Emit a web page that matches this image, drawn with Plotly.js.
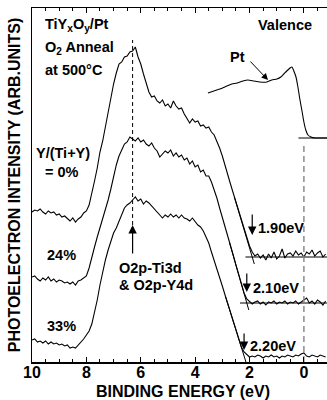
<!DOCTYPE html>
<html>
<head>
<meta charset="utf-8">
<script src="https://cdn.plot.ly/plotly-3.0.1.min.js"></script>
<style>
  html, body { margin: 0; padding: 0; background: #fff; }
  #chart { width: 327px; height: 400px; }
</style>
</head>
<body>
<div id="chart"></div>
<script>
// Binding energy grid of the valence-band spectra (eV)
const energy = [
  10.0, 9.9, 9.8, 9.7, 9.6, 9.5, 9.4, 9.3, 9.2, 9.1,
  9.0, 8.9, 8.8, 8.7, 8.6, 8.5, 8.4, 8.3, 8.2, 8.1,
  8.0, 7.9, 7.8, 7.7, 7.6, 7.5, 7.4, 7.3, 7.2, 7.1,
  7.0, 6.9, 6.8, 6.7, 6.6, 6.5, 6.4, 6.3, 6.2, 6.1,
  6.0, 5.9, 5.8, 5.7, 5.6, 5.5, 5.4, 5.3, 5.2, 5.1,
  5.0, 4.9, 4.8, 4.7, 4.6, 4.5, 4.4, 4.3, 4.2, 4.1,
  4.0, 3.9, 3.8, 3.7, 3.6, 3.5, 3.4, 3.3, 3.2, 3.1,
  3.0, 2.9, 2.8, 2.7, 2.6, 2.5, 2.4, 2.3, 2.2, 2.1,
  2.0, 1.9, 1.8, 1.7, 1.6, 1.5, 1.4, 1.3, 1.2, 1.1,
  1.0, 0.9, 0.8, 0.7, 0.6, 0.5, 0.4, 0.3, 0.2, 0.1,
  0.0, -0.1, -0.2, -0.3, -0.4, -0.5, -0.6, -0.7, -0.8
];

// Photoelectron intensity (arb. units, offset stack) for Y/(Ti+Y) = 0 %
const intensity0 = [
  150, 152, 151, 153, 150, 148, 151, 149, 150, 147,
  148, 145, 146, 143, 141, 144, 140, 143, 145, 149,
  151, 157, 168, 181, 194, 210, 221, 235, 250, 265,
  278, 289, 298, 300, 305, 306, 310, 311, 315, 305,
  298, 288, 279, 270, 265, 266, 261, 259, 262, 256,
  258, 254, 261, 256, 253, 254, 248, 244, 239, 243,
  240, 241, 236, 237, 234, 235, 230, 227, 221, 214,
  206, 196, 187, 178, 169, 160, 151, 141, 132, 123,
  116, 110, 106, 108, 104, 107, 102, 108, 104, 110,
  103, 106, 113, 104, 108, 109, 106, 111, 107, 109,
  105, 110, 108, 112, 106, 109, 111, 105, 108
];

// Y/(Ti+Y) = 24 %
const intensity24 = [
  85, 86, 83, 81, 84, 82, 85, 81, 83, 80,
  82, 81, 79, 80, 78, 80, 77, 81, 82, 84,
  86, 94, 106, 115, 125, 134, 142, 151, 162, 173,
  186, 197, 206, 212, 218, 220, 225, 223, 221, 224,
  220, 222, 218, 216, 219, 214, 211, 205, 208, 211,
  209, 212, 206, 209, 205, 207, 202, 204, 198, 201,
  195, 197, 190, 192, 186, 186, 180, 173, 164, 154,
  145, 135, 126, 116, 107, 97, 88, 78, 69, 63,
  60, 58, 60, 61, 58, 60, 57, 60, 59, 61,
  58, 60, 59, 61, 58, 60, 59, 61, 58, 60,
  62, 64, 59, 61, 58, 62, 60, 57, 61
];

// Y/(Ti+Y) = 33 %
const intensity33 = [
  22, 23, 20, 21, 19, 21, 18, 20, 18, 19,
  17, 18, 16, 17, 14, 15, 14, 17, 19, 23,
  27, 31, 38, 49, 62, 77, 91, 102, 112, 121,
  129, 134, 141, 147, 154, 157, 159, 162, 165, 161,
  163, 158, 161, 159, 156, 152, 149, 146, 144, 147,
  145, 148, 145, 147, 144, 147, 144, 143, 141, 144,
  140, 137, 135, 131, 125, 119, 110, 102, 93, 84,
  76, 67, 58, 50, 41, 32, 23, 15, 10, 7,
  5, 6, 5, 7, 6, 4, 6, 5, 7, 5,
  6, 4, 6, 5, 7, 6, 5, 7, 6, 8,
  9, 6, 5, 7, 6, 5, 7, 6, 5
];

// Pt reference spectrum near the Fermi edge
const ptEnergy = [3.53, 3.31, 3.09, 2.83, 2.65, 2.46, 2.24, 2.06, 1.84, 1.62,
                  1.36, 1.18, 0.99, 0.85, 0.74, 0.63, 0.51, 0.44, 0.37, 0.29,
                  0.22, 0.15, 0.07, 0.0, -0.07, -0.15, -0.26, -0.40, -0.59, -0.85];
const ptIntensity = [269, 271, 273, 276, 278, 279, 281, 282, 281, 280,
                     280, 282, 283, 285, 288, 291, 294, 295, 291, 285,
                     275, 263, 251, 240, 232, 227, 225, 224, 224, 224];
const ptBaseline = 224;
const ptBaselineFrom = 0.2;
const fermiLevel = 0.0;

// Valence-band onsets from linear extrapolation of the leading edge
const compositionLabels = ['= 0%', '24%', '33%'];
const onsetEnergy = [1.90, 2.10, 2.20];
const onsetLabels = ['1.90eV', '2.10eV', '2.20eV'];
const baselineLevel = [105, 59, 6];
const edgeSlope = [91, 95, 87];           // intensity per eV along the leading edge

// O2p-derived band maximum
const bandPeakEnergy = 6.3;

const spectra = [intensity0, intensity24, intensity33];

const black = '#000';
const traces = [];

spectra.forEach(function (vals) {
  traces.push({
    x: energy, y: vals, type: 'scatter', mode: 'lines',
    line: { color: black, width: 1.1 }, hoverinfo: 'skip'
  });
});

traces.push({
  x: ptEnergy, y: ptIntensity, type: 'scatter', mode: 'lines',
  line: { color: black, width: 1.1, shape: 'spline', smoothing: 0.6 }, hoverinfo: 'skip'
});
traces.push({
  x: [ptBaselineFrom, -0.85], y: [ptBaseline, ptBaseline], type: 'scatter', mode: 'lines',
  line: { color: black, width: 1 }, hoverinfo: 'skip'
});

// leading-edge extrapolations and baselines
onsetEnergy.forEach(function (e0, i) {
  const base = baselineLevel[i];
  const s = edgeSlope[i];
  const rise = 60, drop = 7;
  traces.push({
    x: [e0 + rise / s, e0 - drop / s], y: [base + rise, base - drop],
    type: 'scatter', mode: 'lines', line: { color: black, width: 1 }, hoverinfo: 'skip'
  });
  if (i < 2) {
    traces.push({
      x: [e0 + 0.25, -0.85], y: [base, base],
      type: 'scatter', mode: 'lines', line: { color: black, width: 1 }, hoverinfo: 'skip'
    });
  }
});

// reference lines: band maximum and Fermi level
traces.push({
  x: [bandPeakEnergy, bandPeakEnergy], y: [137, 322], type: 'scatter', mode: 'lines',
  line: { color: black, width: 1, dash: '4px,3px' }, hoverinfo: 'skip'
});
traces.push({
  x: [fermiLevel, fermiLevel], y: [0, ptBaseline - 5], type: 'scatter', mode: 'lines',
  line: { color: '#8c8c8c', width: 1.5, dash: '6px,4px' }, hoverinfo: 'skip'
});

const fontFamily = 'Liberation Sans, Arial, Helvetica, sans-serif';
const txt = { family: fontFamily, size: 14.5, color: black, weight: 700 };

function label(text, x, y, xanchor, extra) {
  return Object.assign({
    text: text, x: x, y: y, xref: 'x', yref: 'y', xanchor: xanchor || 'left',
    yanchor: 'middle', showarrow: false, font: txt
  }, extra || {});
}

const annotations = [
  label('TiY<sub>x</sub>O<sub>y</sub>/Pt', 9.6, 337),
  label('O<sub>2</sub> Anneal', 9.6, 314),
  label('at 500°C', 9.6, 292),
  label('Y/(Ti+Y)', 8.86, 209, 'center'),
  label(compositionLabels[0], 8.9, 190, 'center'),
  label(compositionLabels[1], 8.93, 107, 'center'),
  label(compositionLabels[2], 8.9, 36, 'center'),
  label('O2p-Ti3d', 6.88, 94),
  label('&amp; O2p-Y4d', 6.88, 77),
  label('Valence', 0.70, 337, 'center'),
  label('Pt', 2.46, 305, 'center'),
  {
    x: 1.32, y: 282, ax: 2.02, ay: 302, xref: 'x', yref: 'y', axref: 'x', ayref: 'y',
    text: '', showarrow: true, arrowhead: 2, arrowsize: 1.3, arrowwidth: 1, arrowcolor: black
  },
  {
    x: bandPeakEnergy, y: 137, ax: bandPeakEnergy, ay: 107, xref: 'x', yref: 'y', axref: 'x', ayref: 'y',
    text: '', showarrow: true, arrowhead: 2, arrowsize: 1.4, arrowwidth: 1.2, arrowcolor: black
  },
  // x-axis title, placed below the tick labels
  {
    text: 'BINDING ENERGY (eV)', xref: 'paper', yref: 'paper', x: 0.512, y: -0.083,
    xanchor: 'center', yanchor: 'middle', showarrow: false,
    font: { family: fontFamily, size: 16, weight: 700, color: black }
  }
];

const arrowTip = [22, 11, 6];
const arrowTail = [44, 31, 24];
const labelLift = [29, 15, 10];
onsetEnergy.forEach(function (e0, i) {
  const base = baselineLevel[i];
  annotations.push({
    x: e0, y: base + arrowTip[i], ax: e0, ay: base + arrowTail[i],
    xref: 'x', yref: 'y', axref: 'x', ayref: 'y',
    text: '', showarrow: true, arrowhead: 2, arrowsize: 1.4, arrowwidth: 1.2, arrowcolor: black
  });
  annotations.push(label(onsetLabels[i], e0, base + labelLift[i], 'left', { xshift: 4 }));
});

const layout = {
  width: 327, height: 400,
  margin: { l: 32, r: 0, t: 8, b: 38 },
  paper_bgcolor: '#fff', plot_bgcolor: '#fff',
  showlegend: false,
  font: { family: fontFamily, color: black },
  xaxis: {
    range: [10, -0.85], tick0: 0, dtick: 2,
    ticks: 'inside', ticklen: 5, tickwidth: 1.2, tickcolor: black,
    minor: { dtick: 0.5, ticks: 'inside', ticklen: 3, tickwidth: 1, tickcolor: black, showgrid: false },
    showline: true, linecolor: black, linewidth: 1.5, mirror: 'ticks',
    showgrid: false, zeroline: false,
    ticklabelstandoff: -5,
    tickfont: { size: 16, weight: 700, color: black }
  },
  yaxis: {
    range: [0, 354], showline: true, linecolor: black, linewidth: 1.5,
    ticks: '', showticklabels: false, showgrid: false, zeroline: false,
    title: { text: 'PHOTOELECTRON INTENSITY (ARB.UNITS)', font: { size: 16, weight: 700, color: black }, standoff: 6 }
  },
  annotations: annotations
};

Plotly.newPlot('chart', traces, layout, { staticPlot: true, displayModeBar: false });
</script>
</body>
</html>
